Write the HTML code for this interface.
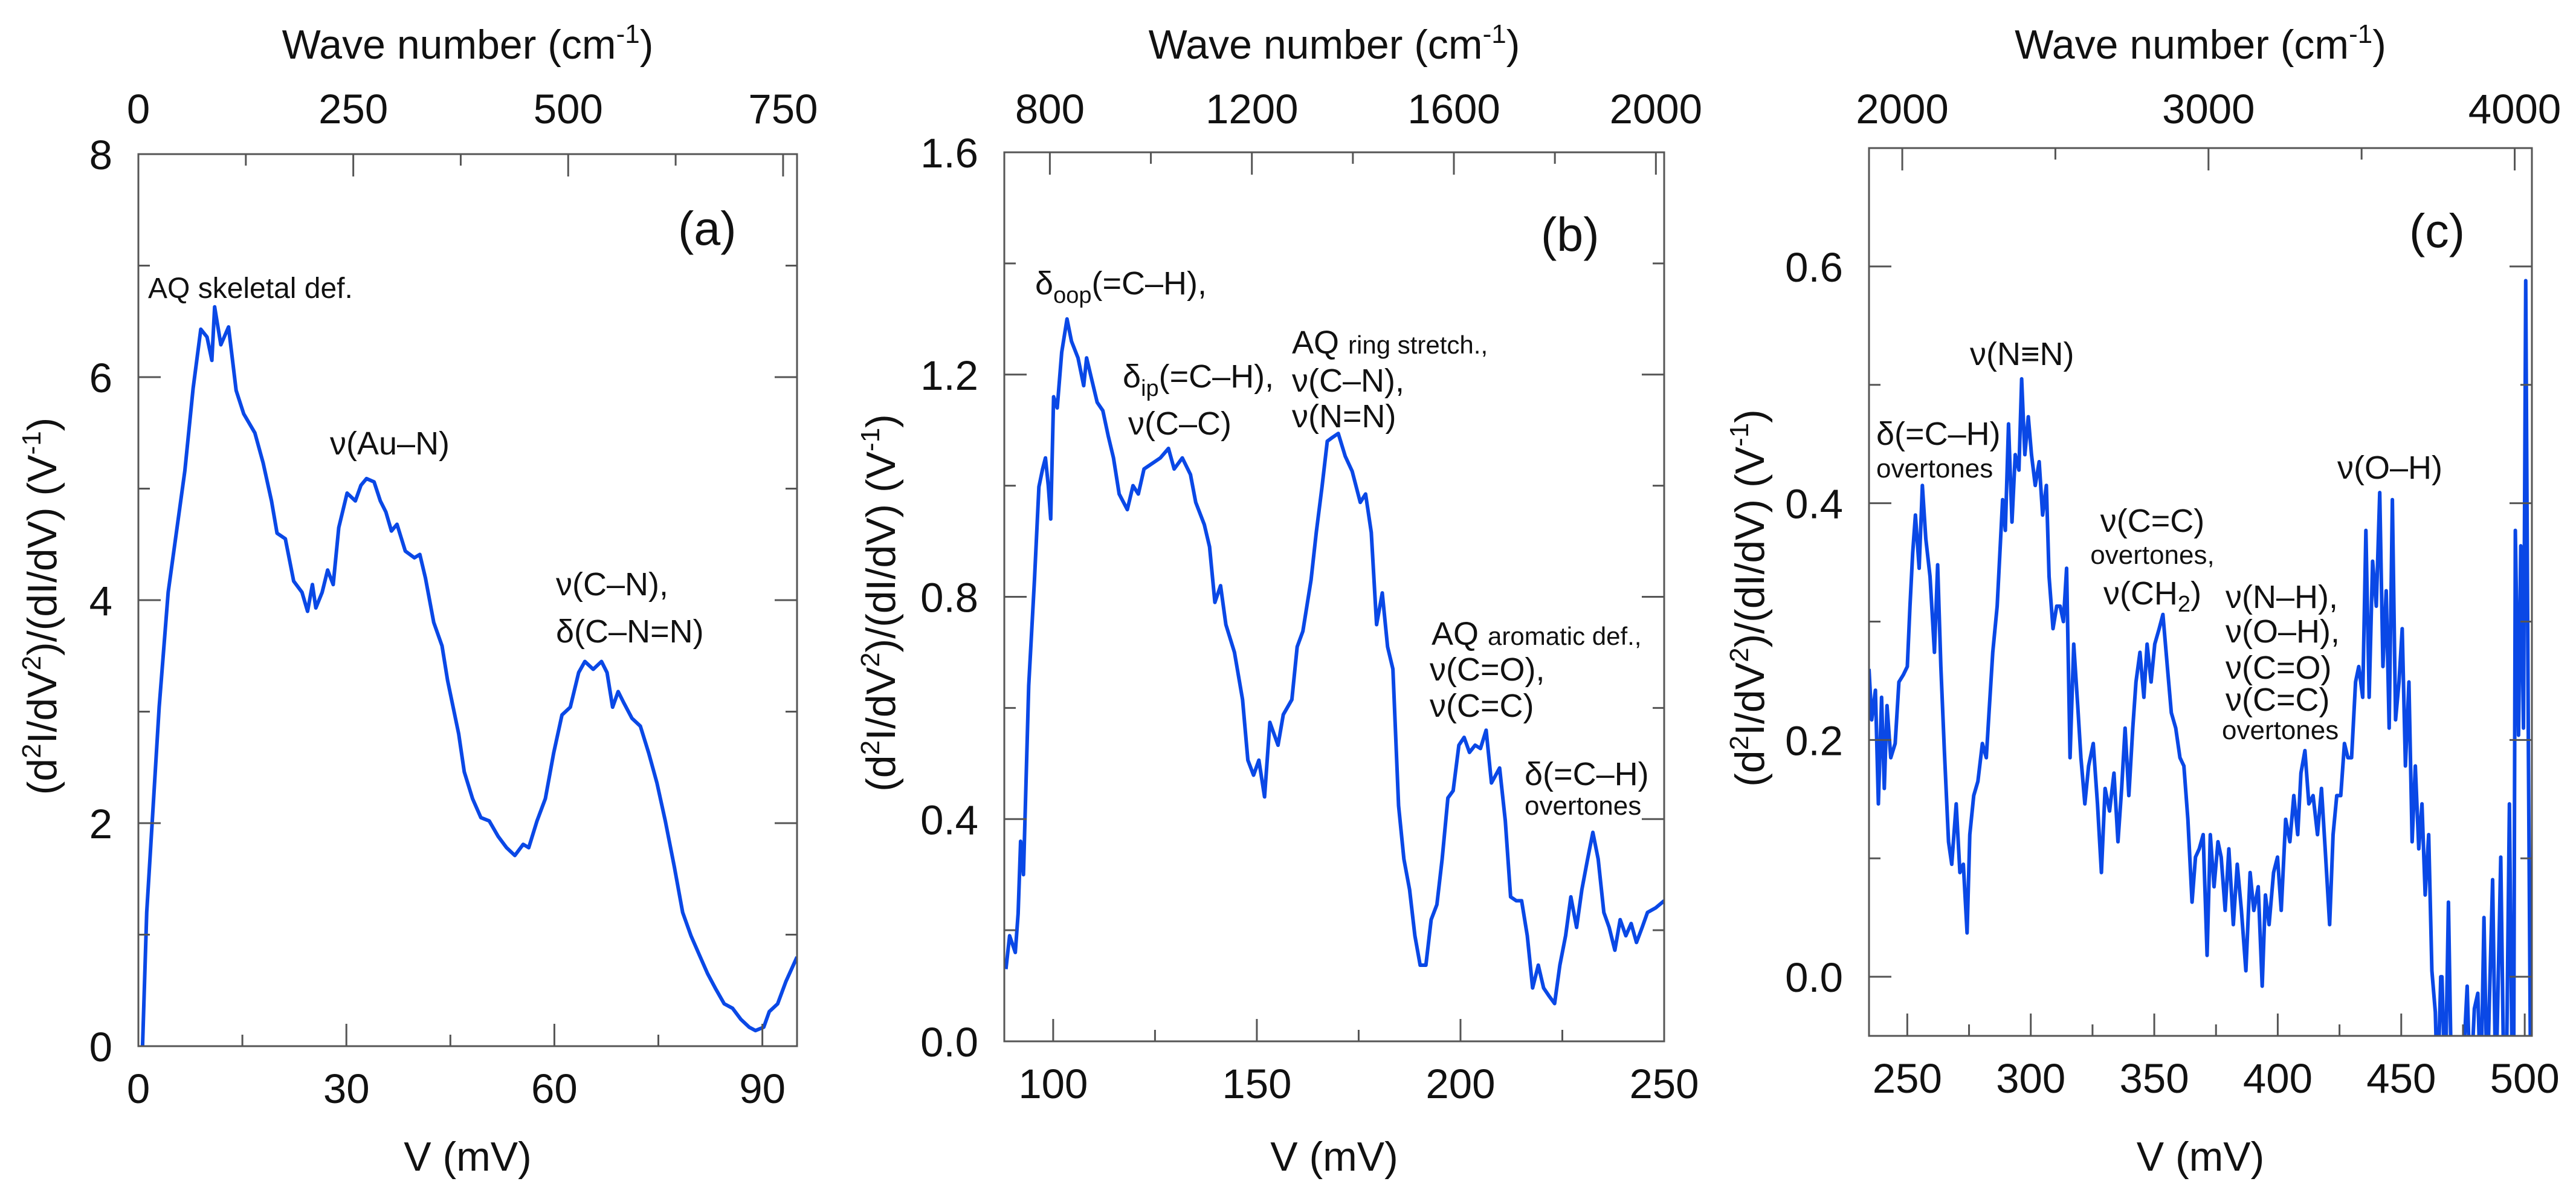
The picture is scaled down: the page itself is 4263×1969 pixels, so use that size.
<!DOCTYPE html>
<html><head><meta charset="utf-8"><style>
html,body{margin:0;padding:0;background:#fff}
svg{display:block}
text{font-family:"Liberation Sans",Arial,sans-serif;fill:#111}
</style></head><body>
<svg id="fig" xmlns="http://www.w3.org/2000/svg" width="4263" height="1969" viewBox="0 0 4263 1969">
<rect width="4263" height="1969" fill="#fff"/>
<g id="layer"></g>
<g font-size="54">
<text x="1122" y="405" font-size="79">(a)</text>
<text x="245" y="493" font-size="48">AQ skeletal def.</text>
<text x="546" y="752">ν(Au–N)</text>
<text x="920" y="985">ν(C–N),</text>
<text x="920" y="1063">δ(C–N=N)</text>
</g>
<g font-size="54">
<text x="2550" y="415" font-size="79">(b)</text>
<text x="1713" y="487">δ<tspan font-size="38" dy="14">oop</tspan><tspan dy="-14">(=C–H),</tspan></text>
<text x="1858" y="641">δ<tspan font-size="38" dy="14">ip</tspan><tspan dy="-14">(=C–H),</tspan></text>
<text x="1867" y="719">ν(C–C)</text>
<text x="2138" y="585">AQ <tspan font-size="42">ring stretch.,</tspan></text>
<text x="2138" y="648">ν(C–N),</text>
<text x="2138" y="707">ν(N=N)</text>
<text x="2369" y="1067">AQ <tspan font-size="42">aromatic def.,</tspan></text>
<text x="2366" y="1126">ν(C=O),</text>
<text x="2366" y="1186">ν(C=C)</text>
<text x="2523" y="1299">δ(=C–H)</text>
<text x="2523" y="1348" font-size="44">overtones</text>
</g>
<g font-size="54">
<text x="3987" y="409" font-size="79">(c)</text>
<text x="3105" y="736">δ(=C–H)</text>
<text x="3105" y="790" font-size="44">overtones</text>
<text x="3260" y="604">ν(N≡N)</text>
<text x="3562" y="880" text-anchor="middle">ν(C=C)</text>
<text x="3562" y="933" text-anchor="middle" font-size="44">overtones,</text>
<text x="3562" y="1000" text-anchor="middle">ν(CH<tspan font-size="38" dy="12">2</tspan><tspan dy="-12">)</tspan></text>
<text x="3683" y="1006">ν(N–H),</text>
<text x="3683" y="1063">ν(O–H),</text>
<text x="3683" y="1123">ν(C=O)</text>
<text x="3683" y="1176">ν(C=C)</text>
<text x="3677" y="1223" font-size="44">overtones</text>
<text x="3868" y="792">ν(O–H)</text>
</g>
</svg>
<script>
// ---- data ----
const vA=[0.6,1.2,3,4.3,6.7,7.9,9,9.9,10.6,11,11.9,13,14.1,15.2,16.8,18,19.2,20,21.2,22.4,23.6,24.4,25.1,25.6,26.5,27.3,28.1,28.9,30.1,31.3,32.1,32.9,34,34.9,35.7,36.5,37.3,38.5,39.8,40.6,41.4,42.6,43.8,44.6,45.4,46.2,47,48.2,49.4,50.6,51.9,53.1,54.3,55.5,56.3,57.5,58.7,59.9,61.1,62.3,63.5,64.4,65.6,66.8,67.6,68.4,69.2,70,71.2,72.4,73.6,74.8,76,77.3,78.5,79.7,80.9,82.1,83.3,84.5,85.7,86.9,88.1,89,90.2,91,92.2,93.4,95];
const yA=[0,1.2,3.04,4.07,5.16,5.9,6.43,6.36,6.15,6.63,6.29,6.45,5.88,5.67,5.5,5.23,4.89,4.6,4.55,4.17,4.07,3.9,4.14,3.93,4.07,4.27,4.14,4.65,4.96,4.89,5.03,5.09,5.06,4.89,4.79,4.62,4.68,4.44,4.38,4.41,4.2,3.8,3.59,3.28,3.04,2.8,2.46,2.22,2.05,2.02,1.88,1.78,1.71,1.81,1.78,2.02,2.22,2.63,2.97,3.04,3.35,3.45,3.38,3.45,3.35,3.04,3.18,3.08,2.94,2.87,2.63,2.36,2.02,1.61,1.2,0.99,0.82,0.65,0.51,0.38,0.34,0.24,0.17,0.14,0.17,0.31,0.38,0.58,0.8];
const vB=[88.4,89.3,90.7,91.4,92,92.7,94,95.4,96.5,97.4,98.1,98.8,99.4,100.1,101,102.1,103.4,104.5,106.1,107.5,108.2,109.5,110.8,112.2,113.5,114.8,116.2,118.2,119.6,120.9,122.3,124.3,126.3,128.3,129.7,131.7,133.7,135,137.1,138.4,139.7,141.1,142.4,144.5,146.5,147.8,149.2,150.5,151.9,153.2,155.2,156.5,158.6,159.9,161.3,163.3,164.6,166,167.3,168.6,170,171.7,173.4,175.4,176.7,178.1,179.4,180.8,182.1,183.4,184.8,186.1,187.5,188.8,190.1,191.5,192.8,194.2,195.5,196.9,198.2,199.6,200.9,202.2,203.6,204.9,206.3,207.6,209.6,211,212.3,213.7,215,216.4,217.7,219.1,220.4,221.7,223.1,224.4,225.8,227.1,228.5,229.8,231.2,232.5,233.8,235.2,236.5,237.9,239.2,240.6,241.9,243.2,244.6,245.9,247.9,250];
const yB=[0.13,0.19,0.16,0.23,0.36,0.30,0.64,0.83,0.998,1.03,1.05,1.0,0.94,1.16,1.14,1.24,1.30,1.26,1.23,1.18,1.23,1.19,1.15,1.135,1.09,1.05,0.985,0.957,1.0,0.985,1.03,1.04,1.05,1.067,1.03,1.05,1.02,0.97,0.93,0.89,0.79,0.82,0.75,0.70,0.615,0.506,0.479,0.506,0.44,0.574,0.533,0.588,0.615,0.71,0.738,0.83,0.916,0.998,1.08,1.087,1.094,1.053,1.026,0.97,0.985,0.916,0.75,0.807,0.71,0.67,0.424,0.328,0.273,0.19,0.137,0.137,0.219,0.246,0.328,0.438,0.451,0.533,0.547,0.52,0.533,0.527,0.56,0.465,0.492,0.397,0.26,0.253,0.253,0.19,0.096,0.137,0.096,0.082,0.068,0.137,0.19,0.26,0.205,0.273,0.328,0.376,0.328,0.232,0.205,0.164,0.219,0.19,0.212,0.178,0.205,0.232,0.24,0.253];
const vC=[234.5,235.6,237.1,238.3,239.6,240.7,241.8,243.3,245.1,246.6,248.4,250,251.1,252.2,253.3,254.8,256.1,257.5,259.2,261,262.3,263.6,265,266.7,268,269.8,271.3,272.7,274.2,275.3,276.9,278.6,280.4,282,283.1,284.6,286.4,287.5,288.6,289.7,291,292.4,293.7,295.2,296.3,297.6,299,300.3,301.8,303.4,304.8,306.3,307.4,309,310.5,311.9,313.2,314.5,315.9,317.4,319,320.3,321.9,323.4,325.3,327,328.6,330.1,331.9,333.7,335.3,336.8,338.2,339.7,341.3,342.6,344.2,345.8,347.1,348.7,350.2,352,353.5,355.3,356.9,358.7,360.4,362,363.6,365.3,366.7,368.2,369.8,371.4,372.7,374.2,375.8,377.1,378.7,380.2,382,383.6,385.3,387.1,388.8,390.3,392.1,393.7,395,396.5,398.3,399.9,401.4,403.2,404.9,406.5,408.1,409.4,411,412.6,414.3,416.1,417.7,419.2,421,422.4,423.9,425.5,427,428.4,429.9,431.5,432.8,434.4,435.7,437,438.4,439.9,441.3,442.6,443.9,445.1,446.4,447.7,449.1,450.4,451.7,453.1,454.4,455.7,457.1,458.4,459.7,461.1,462.4,463.8,464.7,466,466.5,467.8,469.1,470.4,474.5,476.7,478,479.6,481,482.2,483.5,484.8,485.7,487,488.3,490.3,491.6,492.5,493.8,495,495.5,496.2,497.5,498.4,499.5,500.4,501.5,502.4,503];
const yC=[0.26,0.217,0.242,0.146,0.236,0.159,0.229,0.185,0.197,0.249,0.255,0.262,0.313,0.358,0.39,0.345,0.415,0.37,0.338,0.274,0.348,0.262,0.191,0.114,0.095,0.146,0.088,0.095,0.037,0.12,0.153,0.165,0.197,0.185,0.223,0.274,0.313,0.358,0.403,0.377,0.467,0.384,0.441,0.428,0.505,0.441,0.473,0.441,0.415,0.435,0.39,0.415,0.338,0.294,0.313,0.313,0.3,0.345,0.185,0.281,0.229,0.185,0.146,0.178,0.197,0.146,0.088,0.159,0.14,0.172,0.114,0.159,0.21,0.153,0.21,0.249,0.274,0.236,0.281,0.249,0.281,0.294,0.306,0.262,0.223,0.21,0.185,0.178,0.133,0.063,0.101,0.108,0.12,0.018,0.12,0.076,0.114,0.101,0.056,0.108,0.044,0.095,0.056,0.005,0.088,0.056,0.076,-0.008,0.069,0.044,0.088,0.101,0.056,0.133,0.114,0.153,0.12,0.172,0.191,0.146,0.153,0.12,0.159,0.108,0.044,0.12,0.153,0.153,0.197,0.185,0.185,0.249,0.262,0.236,0.377,0.236,0.351,0.313,0.409,0.262,0.326,0.21,0.403,0.217,0.249,0.294,0.178,0.249,0.114,0.178,0.108,0.146,0.069,0.12,0.005,-0.03,-0.1,0.0,0.0,-0.1,0.063,-0.1,-0.1,-0.008,-0.1,-0.027,-0.014,-0.1,0.05,-0.1,-0.02,0.082,-0.1,0.101,-0.1,-0.1,0.146,-0.1,-0.1,0.377,0.204,0.364,0.21,0.588,0.185,-0.1,-0.1];

const xTicksA=[0,30,60,90], xMinorA=[15,45,75], yTicksA=[0,2,4,6,8], yMinorA=[1,3,5,7], yLabA=["0","2","4","6","8"];
const wTicksA=[0,250,500,750], wMinorA=[125,375,625];
const xTicksB=[100,150,200,250], xMinorB=[125,175,225], yTicksB=[0,0.4,0.8,1.2,1.6], yMinorB=[0.2,0.6,1.0,1.4], yLabB=["0.0","0.4","0.8","1.2","1.6"];
const wTicksB=[800,1200,1600,2000], wMinorB=[1000,1400,1800];
const xTicksC=[250,300,350,400,450,500], xMinorC=[275,325,375,425,475], yTicksC=[0,0.2,0.4,0.6], yMinorC=[0.1,0.3,0.5], yLabC=["0.0","0.2","0.4","0.6"];
const wTicksC=[2000,3000,4000], wMinorC=[2500,3500];

const NS="http://www.w3.org/2000/svg";
const layer=document.getElementById('layer');
function mk(tag,attrs,parent){const e=document.createElementNS(NS,tag);for(const k in attrs)e.setAttribute(k,attrs[k]);(parent||layer).appendChild(e);return e;}
const CM=8.0655;

function panel(id,L,R,T,B,xmin,xmax,ymin,ymax,vx,vy,xt,xm,yt,ym,yl,wt,wm,ylabX){
  const sx=v=>L+(v-xmin)/(xmax-xmin)*(R-L);
  const sy=v=>B-(v-ymin)/(ymax-ymin)*(B-T);
  const g=mk('g',{});
  
  
  const cp=mk('clipPath',{id:'clip'+id},g);
  mk('rect',{x:L,y:T,width:R-L,height:B-T},cp);
  let d='';
  for(let i=0;i<vx.length;i++){d+=(i?'L':'M')+sx(vx[i]).toFixed(1)+' '+sy(vy[i]).toFixed(1);}
  const p=mk('path',{d:d,fill:'none',stroke:'#0a48e6','stroke-width':6,'stroke-linejoin':'round','clip-path':'url(#clip'+id+')'},g);
  
  
  const fr=mk('rect',{x:L,y:T,width:R-L,height:B-T,fill:'none',stroke:'#555','stroke-width':3},g);
  
  
  const ts={stroke:'#555','stroke-width':3};
  xt.forEach(v=>{const x=sx(v);mk('line',Object.assign({x1:x,x2:x,y1:B,y2:B-37},ts),g);
    const t=mk('text',{x:x,y:B+94,'font-size':69,'text-anchor':'middle'},g);t.textContent=v;
    
    });
  xm.forEach(v=>{const x=sx(v);mk('line',Object.assign({x1:x,x2:x,y1:B,y2:B-19},ts),g);});
  yt.forEach((v,i)=>{const y=sy(v);mk('line',Object.assign({x1:L,x2:L+37,y1:y,y2:y},ts),g);mk('line',Object.assign({x1:R,x2:R-37,y1:y,y2:y},ts),g);
    const t=mk('text',{x:L-43,y:y+25,'font-size':69,'text-anchor':'end'},g);t.textContent=yl[i];
    
    });
  ym.forEach(v=>{const y=sy(v);mk('line',Object.assign({x1:L,x2:L+19,y1:y,y2:y},ts),g);mk('line',Object.assign({x1:R,x2:R-19,y1:y,y2:y},ts),g);});
  wt.forEach(w=>{const x=sx(w/CM);mk('line',Object.assign({x1:x,x2:x,y1:T,y2:T+37},ts),g);
    const t=mk('text',{x:x,y:204,'font-size':69,'text-anchor':'middle'},g);t.textContent=w;
    
    });
  wm.forEach(w=>{const x=sx(w/CM);if(x>L&&x<R)mk('line',Object.assign({x1:x,x2:x,y1:T,y2:T+19},ts),g);});
  const cx=(L+R)/2;
  const tt=mk('text',{x:cx,y:97,'font-size':68,'text-anchor':'middle'},g);
  tt.innerHTML='Wave number (cm<tspan font-size="44" dy="-26">-1</tspan><tspan dy="26">)</tspan>';
  
  
  const bt=mk('text',{x:cx,y:1937,'font-size':68,'text-anchor':'middle'},g);
  bt.textContent='V (mV)';
  
  
  const cy=(T+B)/2+10;
  const yt2=mk('text',{x:0,y:0,'font-size':68,'text-anchor':'middle',transform:'translate('+(ylabX+24)+','+cy+') rotate(-90)'},g);
  yt2.innerHTML='(d<tspan font-size="44" dy="-26">2</tspan><tspan dy="26">I/dV</tspan><tspan font-size="44" dy="-26">2</tspan><tspan dy="26">)/(dI/dV) (V</tspan><tspan font-size="44" dy="-26">-1</tspan><tspan dy="26">)</tspan>';
  
  
}
panel('a',229,1319,255,1731,0,95,0,8,vA,yA,xTicksA,xMinorA,yTicksA,yMinorA,yLabA,wTicksA,wMinorA,69);
panel('b',1662,2754,252,1723,88,250,0,1.6,vB,yB,xTicksB,xMinorB,yTicksB,yMinorB,yLabB,wTicksB,wMinorB,1457);
panel('c',3093,4190,245,1714,234.5,502.9,-0.05,0.70,vC,yC,xTicksC,xMinorC,yTicksC,yMinorC,yLabC,wTicksC,wMinorC,2895);
</script>
</body></html>
